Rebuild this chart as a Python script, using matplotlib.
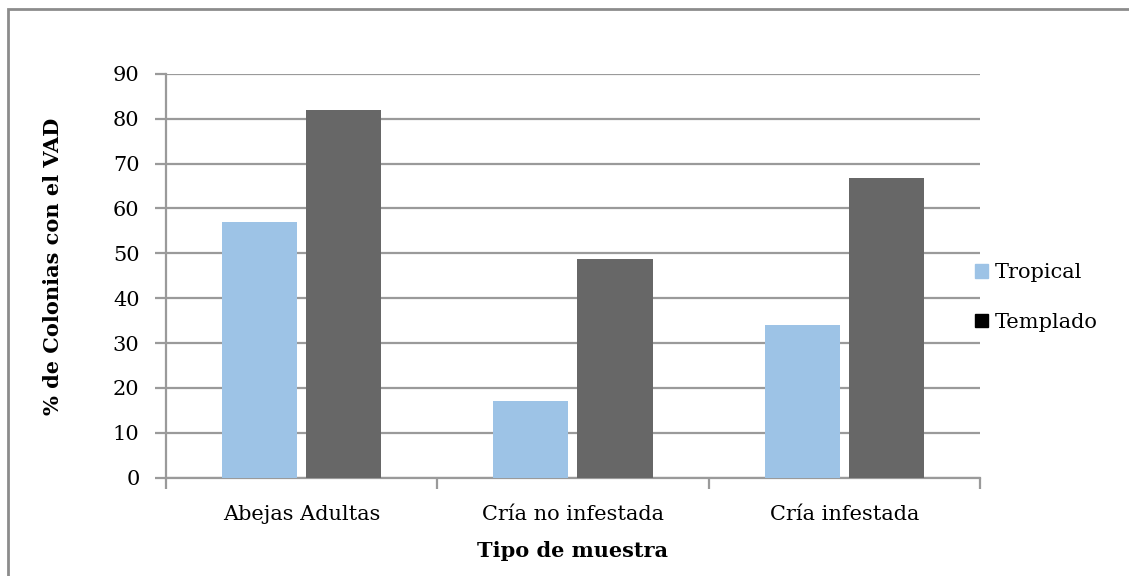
import numpy as np
import matplotlib.pyplot as plt
from matplotlib.patches import Rectangle, Patch

plt.rcParams['font.family'] = ['DejaVu Serif']

categories = ['Abejas Adultas', 'Cría no infestada', 'Cría infestada']
tropical = [57.1, 17.1, 34.1]
templado = [82.0, 48.7, 66.7]

col_trop = '#9dc3e6'
col_temp = '#676767'
grid_col = '#9a9a9a'
fs = 15

fig = plt.figure(figsize=(11.29, 5.76), dpi=100)
ax = fig.add_axes([0.147, 0.1707, 0.721, 0.701])

x = np.arange(len(categories))
w = 0.277
off = 0.155
ax.bar(x - off, tropical, w, color=col_trop, zorder=3)
ax.bar(x + off, templado, w, color=col_temp, zorder=3)

ax.set_xlim(-0.5, 2.5)
ax.set_ylim(0, 90)
ax.set_yticks(range(0, 91, 10))
ax.yaxis.grid(True, color=grid_col, linewidth=1.6, zorder=0)

ax.set_xticks(x)
ax.set_xticklabels(categories)
ax.set_xticks([-0.5, 0.5, 1.5, 2.5], minor=True)
ax.tick_params(axis='x', which='major', length=0, pad=20, labelsize=fs)
ax.tick_params(axis='x', which='minor', length=8, width=1.6, color=grid_col, direction='out')
ax.tick_params(axis='y', length=8, width=1.6, color=grid_col, labelsize=fs, pad=11)

for s in ['top', 'right']:
    ax.spines[s].set_visible(False)
for s in ['left', 'bottom']:
    ax.spines[s].set_color(grid_col)
    ax.spines[s].set_linewidth(1.6)

# axis titles placed like the original
fig.text(0.5067, 1 - 551 / 576, 'Tipo de muestra', fontsize=fs, fontweight='bold',
         ha='center', va='center')
fig.text(53 / 1129, 1 - 266 / 576, '% de Colonias con el VAD', fontsize=fs,
         fontweight='bold', rotation=90, ha='center', va='center')

handles = [Patch(color=col_trop, label='Tropical'), Patch(color='black', label='Templado')]
fig.legend(handles=handles, loc='center left', bbox_to_anchor=(0.8472, 1 - 297.5 / 576),
           frameon=False, fontsize=fs, handlelength=0.62, handleheight=0.62,
           handletextpad=0.34, labelspacing=1.45)

fig.patches.append(Rectangle((8 / 1129, -0.05), 1.2, 1 - 9 / 576 + 0.05,
                             transform=fig.transFigure, fill=False,
                             edgecolor='#8c8c8c', linewidth=2))

fig.savefig('out.png', dpi=100)
